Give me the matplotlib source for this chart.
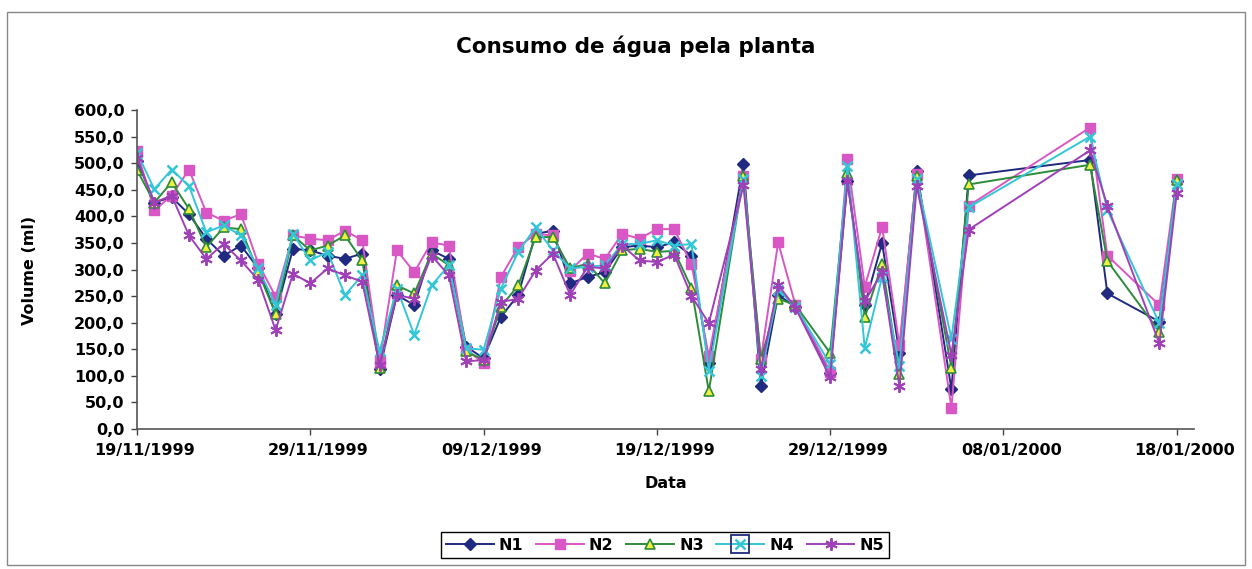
import matplotlib
matplotlib.use("Agg")
import matplotlib.pyplot as plt
import matplotlib.dates as mdates
import matplotlib.transforms as mtransforms
from matplotlib.lines import Line2D
from matplotlib.legend_handler import HandlerTuple
from matplotlib.patches import Rectangle
import pandas as pd

plt.rcParams['font.family'] = ['DejaVu Sans']
plt.rcParams['font.weight'] = 'bold'

dates = ['19/11/1999', '20/11/1999', '21/11/1999', '22/11/1999', '23/11/1999',
         '24/11/1999', '25/11/1999', '26/11/1999', '27/11/1999', '28/11/1999',
         '29/11/1999', '30/11/1999', '01/12/1999', '02/12/1999', '03/12/1999',
         '04/12/1999', '05/12/1999', '06/12/1999', '07/12/1999', '08/12/1999',
         '09/12/1999', '10/12/1999', '11/12/1999', '12/12/1999', '13/12/1999',
         '14/12/1999', '15/12/1999', '16/12/1999', '17/12/1999', '18/12/1999',
         '19/12/1999', '20/12/1999', '21/12/1999', '22/12/1999',
         '24/12/1999', '25/12/1999', '26/12/1999', '27/12/1999',
         '29/12/1999', '30/12/1999', '31/12/1999', '01/01/2000', '02/01/2000',
         '03/01/2000', '05/01/2000', '06/01/2000', '13/01/2000', '14/01/2000',
         '17/01/2000', '18/01/2000']

N1 = [505, 426, 436, 404, 358, 326, 345, 302, 217, 339,
      336, 326, 320, 330, 112, 252, 233, 336, 320, 155,
      133, 211, 252, 367, 373, 274, 286, 295, 342, 345,
      342, 351, 326, 124,
      498, 80, 252, 230,
      106, 466, 233, 350, 143, 486, 75, 477, 506, 255, 202, 467]
N2 = [522, 411, 439, 488, 407, 392, 404, 311, 249, 364,
      358, 355, 373, 355, 127, 336, 295, 351, 345, 149,
      124, 286, 342, 367, 364, 298, 330, 320, 367, 358,
      376, 376, 310, 137,
      476, 131, 351, 233,
      108, 507, 268, 380, 158, 480, 40, 420, 567, 326, 233, 470]
N3 = [487, 426, 464, 414, 342, 379, 376, 295, 217, 364,
      336, 345, 364, 317, 115, 270, 255, 330, 308, 146,
      130, 230, 270, 361, 361, 302, 311, 274, 336, 339,
      333, 335, 265, 71,
      476, 131, 245, 233,
      143, 482, 210, 311, 103, 475, 115, 460, 497, 316, 183, 468]
N4 = [520, 451, 488, 457, 370, 383, 364, 302, 233, 367,
      317, 333, 252, 289, 146, 264, 177, 270, 308, 152,
      149, 264, 333, 379, 336, 302, 305, 308, 348, 348,
      355, 345, 348, 110,
      470, 100, 262, 230,
      122, 495, 152, 286, 118, 470, 170, 417, 550, 412, 199, 460]
N5 = [510, 426, 439, 364, 320, 348, 317, 280, 186, 292,
      274, 302, 289, 277, 121, 252, 245, 326, 289, 127,
      130, 239, 245, 298, 330, 252, 305, 302, 345, 317,
      314, 328, 250, 199,
      458, 112, 271, 228,
      97, 466, 240, 295, 80, 457, 140, 375, 524, 420, 161, 443]

tick_labels = ['19/11/1999', '29/11/1999', '09/12/1999', '19/12/1999',
               '29/12/1999', '08/01/2000', '18/01/2000']
y_ticks = [0, 50, 100, 150, 200, 250, 300, 350, 400, 450, 500, 550, 600]

x = mdates.date2num(pd.to_datetime(dates, dayfirst=True))
xt = mdates.date2num(pd.to_datetime(tick_labels, dayfirst=True))

W, H = 1252, 569
fig = plt.figure(figsize=(W / 100, H / 100), dpi=100)
ax = fig.add_axes([137 / W, (H - 429) / H, (1194 - 137) / W, (429 - 110) / H])

c1, c2, c3, c4, c5 = '#1F2A80', '#D957C4', '#2E8B3A', '#33C6D6', '#A040B8'
lw = 1.4
l1, = ax.plot(x, N1, color=c1, lw=lw, marker='D', ms=6, mfc=c1, mec=c1)
l2, = ax.plot(x, N2, color=c2, lw=lw, marker='s', ms=7, mfc=c2, mec=c2)
l3, = ax.plot(x, N3, color=c3, lw=lw, marker='^', ms=7, mfc='#F0F040', mec=c3, mew=1.2)
l4, = ax.plot(x, N4, color=c4, lw=lw, marker='x', ms=7, mec=c4, mew=1.8)
l5, = ax.plot(x, N5, color=c5, lw=lw, marker=(6, 2, 0), ms=9, mec=c5, mew=1.4)

fs = 11.5
ax.set_xlim(xt[0], xt[-1] + 1)
ax.set_ylim(0, 600)
ax.set_xticks(xt)
ax.set_xticklabels(tick_labels)
ax.set_yticks(y_ticks)
ax.set_yticklabels([f"{v:.1f}".replace('.', ',') for v in y_ticks])
for s in ['top', 'right']:
    ax.spines[s].set_visible(False)
for s in ['left', 'bottom']:
    ax.spines[s].set_color('#555555')
    ax.spines[s].set_linewidth(1.2)
ax.tick_params(axis='both', labelsize=fs, colors='#444444', length=4, width=1, direction='out')
ax.tick_params(axis='x', pad=6)
ax.tick_params(axis='y', pad=5)
shift = mtransforms.ScaledTranslation(8 / 100, 0, fig.dpi_scale_trans)
for t in ax.get_xticklabels():
    t.set_transform(t.get_transform() + shift)
for t in ax.get_xticklabels() + ax.get_yticklabels():
    t.set_fontweight('bold')
    t.set_color('black')

fig.text(636 / W, 1 - 46 / H, 'Consumo de água pela planta', ha='center', va='center',
         fontsize=15.5, fontweight='bold')
fig.text(30 / W, 1 - 270 / H, 'Volume (ml)', ha='center', va='center', rotation=90,
         fontsize=fs, fontweight='bold')
fig.text(666 / W, 1 - 483 / H, 'Data', ha='center', va='center',
         fontsize=fs, fontweight='bold')

h4 = (Line2D([], [], color=c4, lw=lw, marker='x', ms=7, mec=c4, mew=1.8),
      Line2D([], [], ls='none', marker='s', ms=13, mfc='none', mec='#1F2A80', mew=1.3))
leg = fig.legend([l1, l2, l3, h4, l5], ['N1', 'N2', 'N3', 'N4', 'N5'],
                 loc='center', bbox_to_anchor=(665 / W, 1 - 545 / H), ncol=5,
                 frameon=True, fancybox=False, edgecolor='black', framealpha=1,
                 handlelength=3.0, handletextpad=0.3, columnspacing=0.8,
                 borderpad=0.35, prop={'weight': 'bold', 'size': fs},
                 handler_map={tuple: HandlerTuple(ndivide=1)})
leg.get_frame().set_linewidth(1.0)

fig.patches.append(Rectangle((7 / W, 4 / H), (1245 - 7) / W, (565 - 12) / H,
                             transform=fig.transFigure, fill=False,
                             edgecolor='#888888', lw=1))

fig.savefig('out.png', dpi=100)
